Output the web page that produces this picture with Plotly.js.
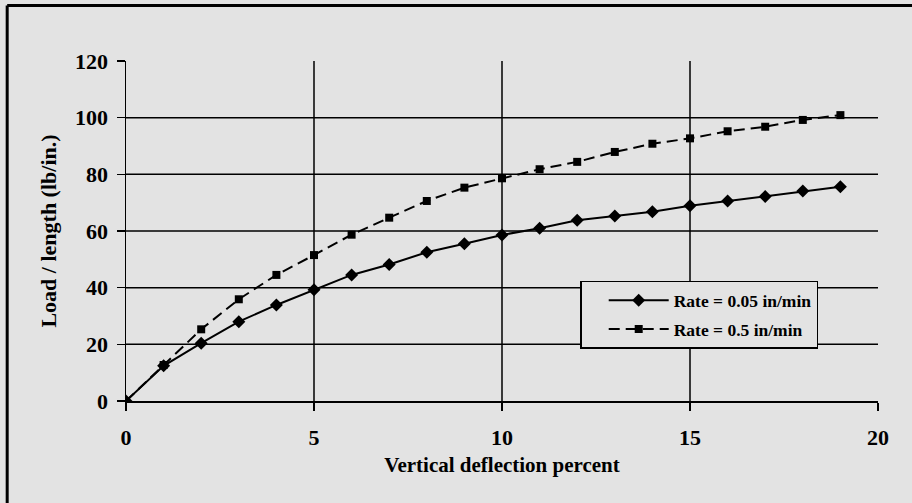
<!DOCTYPE html>
<html>
<head>
<meta charset="utf-8">
<script src="https://cdn.plot.ly/plotly-3.0.1.min.js"></script>
<style>html,body{margin:0;padding:0;background:#e3e3e3;}#chart{width:912px;height:503px;}</style>
</head>
<body>
<div id="chart"></div>
<script>
// Data
const deflection = [0,1,2,3,4,5,6,7,8,9,10,11,12,13,14,15,16,17,18,19];
const loadSlow = [0,12.4,20.4,28,33.9,39.3,44.5,48.2,52.5,55.5,58.6,61,63.8,65.3,66.8,68.9,70.6,72.2,74.1,75.6];
const loadFast = [0,12.7,25.3,35.9,44.5,51.5,58.7,64.7,70.6,75.3,78.6,81.8,84.4,87.9,90.8,92.7,95.2,96.8,99.2,100.9];
const seriesNames = ["Rate = 0.05 in/min", "Rate = 0.5 in/min"];
const xTicks = [0,5,10,15,20];
const yTicks = [0,20,40,60,80,100,120];
const gridX = [5,10,15];
const gridY = [20,40,60,80,100];

const serif = "Liberation Serif, Times New Roman, serif";
const bg = "#e3e3e3";

const traces = [
  {x: deflection, y: loadSlow, name: seriesNames[0], mode: "lines+markers", legendgroup: "a",
   line: {color: "#000", width: 2, dash: "solid"},
   marker: {symbol: "diamond", size: 10, color: "#000"}},
  {x: deflection, y: loadFast, name: seriesNames[1], mode: "lines+markers", legendgroup: "b",
   line: {color: "#000", width: 2, dash: "11px,6px"},
   marker: {symbol: "square", size: 8, color: "#000"}}
];

const shapes = [];
gridX.forEach(v => shapes.push({type: "line", xref: "x", yref: "y", x0: v, x1: v, y0: 0, y1: 120, layer: "below", line: {color: "#000", width: 1.5}}));
gridY.forEach(v => shapes.push({type: "line", xref: "x", yref: "y", x0: 0, x1: 20, y0: v, y1: v, layer: "below", line: {color: "#000", width: 1.5}}));
// figure border: top and left edges
shapes.push({type: "line", xref: "paper", yref: "paper", x0: -0.158, x1: 1.05, y0: 1.163, y1: 1.163, line: {color: "#000", width: 3}});
shapes.push({type: "line", xref: "paper", yref: "paper", x0: -0.158, x1: -0.158, y0: -0.31, y1: 1.163, line: {color: "#000", width: 3}});

const layout = {
  width: 912, height: 503,
  paper_bgcolor: bg, plot_bgcolor: bg,
  margin: {l: 126, r: 34, t: 61, b: 102},
  font: {family: serif, color: "#000", size: 17},
  showlegend: true,
  legend: {x: 0.604, y: 0.353, xanchor: "left", yanchor: "top",
    bgcolor: bg, bordercolor: "#000", borderwidth: 1.5,
    font: {family: serif, size: 17.5, color: "#000", weight: "bold"},
    itemwidth: 60, indentation: 22, traceorder: "grouped", tracegroupgap: 3},
  xaxis: {range: [0, 20], tickvals: xTicks, ticktext: xTicks.map(String),
    showgrid: false, zeroline: false, showline: true, linecolor: "#000", linewidth: 1.5,
    ticks: "outside", ticklen: 8, tickwidth: 1.5, tickcolor: "#000", ticklabelstandoff: 8,
    tickfont: {family: serif, size: 22, weight: "bold"},
    title: {text: "Vertical deflection percent", font: {family: serif, size: 21, weight: "bold"}, standoff: 8}},
  yaxis: {range: [0, 120], tickvals: yTicks, ticktext: yTicks.map(String),
    showgrid: false, zeroline: false, showline: true, linecolor: "#000", linewidth: 1.5,
    ticks: "outside", ticklen: 8, tickwidth: 1.5, tickcolor: "#000", ticklabelstandoff: 4,
    tickfont: {family: serif, size: 22, weight: "bold"},
    title: {text: "Load / length (lb/in.)", font: {family: serif, size: 22, weight: "bold"}, standoff: 12}},
  shapes: shapes
};

Plotly.newPlot("chart", traces, layout, {displayModeBar: false, staticPlot: true});
</script>
</body>
</html>
